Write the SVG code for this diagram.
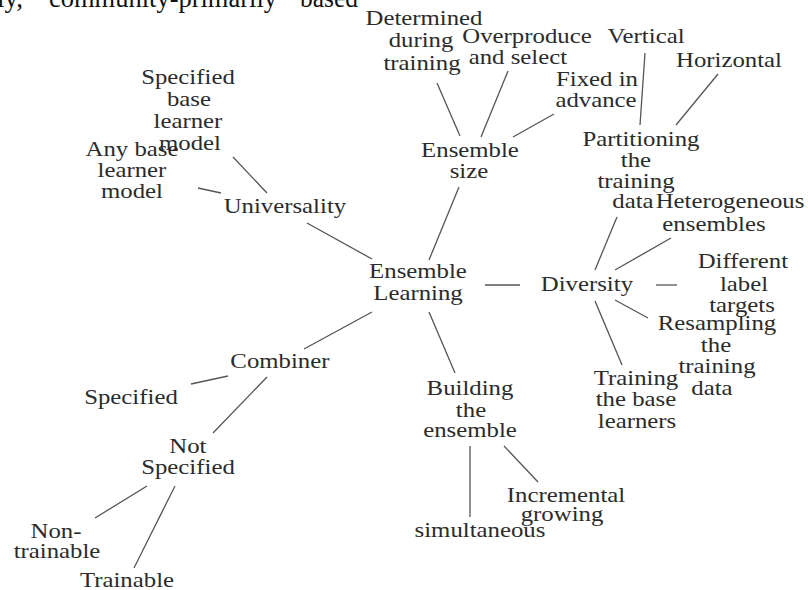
<svg xmlns="http://www.w3.org/2000/svg" width="808" height="590" viewBox="0 0 808 590">
<style>
.t{font-family:"Liberation Serif","Times New Roman",serif;font-size:20px;fill:#2b2b2b;text-anchor:middle;transform-box:fill-box;transform-origin:center;transform:scaleX(1.24)}
.top{font-family:"Liberation Serif","Times New Roman",serif;font-size:27px;fill:#111}
#edges line{stroke:#555;stroke-width:1.3;fill:none}
</style>
<rect width="808" height="590" fill="#fff"/>
<g id="caption-fragment">
<text class="top" x="23" y="7" text-anchor="end">ly,</text>
<text class="top" x="49" y="7" textLength="228" lengthAdjust="spacingAndGlyphs">community-primarily</text>
<text class="top" x="300" y="7" textLength="58" lengthAdjust="spacingAndGlyphs">based</text>
</g>
<g id="edges">
<line x1="460" y1="136" x2="437" y2="83"/>
<line x1="481" y1="137" x2="508" y2="71"/>
<line x1="513" y1="137" x2="554" y2="114"/>
<line x1="640" y1="125" x2="645" y2="53"/>
<line x1="676" y1="125" x2="718" y2="74"/>
<line x1="429" y1="260" x2="459" y2="187"/>
<line x1="267" y1="193" x2="233" y2="157"/>
<line x1="221" y1="193" x2="198" y2="188"/>
<line x1="372" y1="259" x2="307" y2="223"/>
<line x1="485" y1="285" x2="520" y2="285"/>
<line x1="595" y1="270" x2="617" y2="217"/>
<line x1="615" y1="270" x2="671" y2="238"/>
<line x1="656" y1="285" x2="677" y2="285"/>
<line x1="615" y1="300" x2="648" y2="318"/>
<line x1="595" y1="301" x2="622" y2="365"/>
<line x1="372" y1="312" x2="304" y2="349"/>
<line x1="429" y1="312" x2="455" y2="373"/>
<line x1="228" y1="376" x2="191" y2="384"/>
<line x1="267" y1="377" x2="213" y2="433"/>
<line x1="147" y1="486" x2="95" y2="518"/>
<line x1="175" y1="486" x2="134" y2="568"/>
<line x1="470" y1="446" x2="470" y2="517"/>
<line x1="504" y1="446" x2="538" y2="482"/>
</g>
<g id="n-ensemble-learning"><text class="t" x="418" y="278">Ensemble</text><text class="t" x="418" y="300">Learning</text></g>
<g id="n-ensemble-size"><text class="t" x="470" y="157">Ensemble</text><text class="t" x="469" y="178">size</text></g>
<g id="n-determined"><text class="t" x="424" y="25">Determined</text><text class="t" x="421" y="47">during</text><text class="t" x="422" y="70">training</text></g>
<g id="n-overproduce"><text class="t" x="527" y="43">Overproduce</text><text class="t" x="518" y="64">and select</text></g>
<g id="n-fixed"><text class="t" x="597" y="86">Fixed in</text><text class="t" x="596" y="107">advance</text></g>
<g id="n-vertical"><text class="t" x="646" y="43">Vertical</text></g>
<g id="n-horizontal"><text class="t" x="729" y="67">Horizontal</text></g>
<g id="n-partitioning"><text class="t" x="641" y="146">Partitioning</text><text class="t" x="636" y="167">the</text><text class="t" x="636" y="188">training</text><text class="t" x="633" y="208">data</text></g>
<g id="n-heterogeneous"><text class="t" x="730" y="208">Heterogeneous</text><text class="t" x="714" y="231">ensembles</text></g>
<g id="n-universality"><text class="t" x="285" y="213">Universality</text></g>
<g id="n-specified-base"><text class="t" x="188" y="84">Specified</text><text class="t" x="189" y="106">base</text><text class="t" x="188" y="128">learner</text><text class="t" x="190" y="150">model</text></g>
<g id="n-any-base"><text class="t" x="132" y="156">Any base</text><text class="t" x="132" y="177">learner</text><text class="t" x="132" y="198">model</text></g>
<g id="n-diversity"><text class="t" x="587" y="291">Diversity</text></g>
<g id="n-different"><text class="t" x="743" y="268">Different</text><text class="t" x="744" y="291">label</text><text class="t" x="742" y="312">targets</text></g>
<g id="n-resampling"><text class="t" x="717" y="330">Resampling</text><text class="t" x="716" y="352">the</text><text class="t" x="717" y="373">training</text><text class="t" x="712" y="395">data</text></g>
<g id="n-training-base"><text class="t" x="636" y="385">Training</text><text class="t" x="636" y="406">the base</text><text class="t" x="637" y="428">learners</text></g>
<g id="n-combiner"><text class="t" x="280" y="368">Combiner</text></g>
<g id="n-specified"><text class="t" x="131" y="404">Specified</text></g>
<g id="n-not-specified"><text class="t" x="188" y="453">Not</text><text class="t" x="188" y="474">Specified</text></g>
<g id="n-non-trainable"><text class="t" x="56" y="538">Non-</text><text class="t" x="57" y="558">trainable</text></g>
<g id="n-trainable"><text class="t" x="127" y="587">Trainable</text></g>
<g id="n-building"><text class="t" x="470" y="395">Building</text><text class="t" x="471" y="417">the</text><text class="t" x="470" y="437">ensemble</text></g>
<g id="n-incremental"><text class="t" x="566" y="502">Incremental</text><text class="t" x="562" y="521">growing</text></g>
<g id="n-simultaneous"><text class="t" x="480" y="537">simultaneous</text></g>
</svg>
